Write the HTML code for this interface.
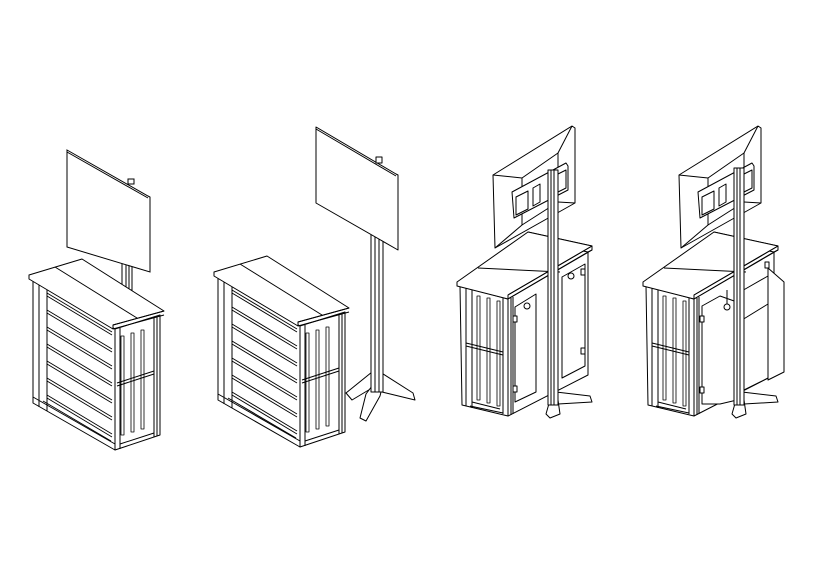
<!DOCTYPE html>
<html><head><meta charset="utf-8"><style>
html,body{margin:0;padding:0;background:#fff;width:815px;height:562px;overflow:hidden}
svg{display:block}
</style></head><body>
<svg width="815" height="562" viewBox="0 0 815 562" xmlns="http://www.w3.org/2000/svg">
<defs>
<g id="cabA" fill="#fff" stroke="#000" stroke-width="1" stroke-linejoin="round">
  <polygon points="218,276 300,326 300,447 218,400"/>
  <line x1="224" y1="280" x2="224" y2="404"/>
  <line x1="232" y1="285" x2="232" y2="408"/>
  <line x1="218" y1="394" x2="300" y2="441"/>
  <line x1="228" y1="398" x2="296" y2="438"/>
  <g stroke-width="0.9">
   <line x1="232" y1="290" x2="297" y2="329"/><line x1="232" y1="293" x2="297" y2="332"/>
   <line x1="232" y1="307" x2="297" y2="346"/><line x1="232" y1="310" x2="297" y2="349"/>
   <line x1="232" y1="324" x2="297" y2="363"/><line x1="232" y1="327" x2="297" y2="366"/>
   <line x1="232" y1="341" x2="297" y2="380"/><line x1="232" y1="344" x2="297" y2="383"/>
   <line x1="232" y1="358" x2="297" y2="397"/><line x1="232" y1="361" x2="297" y2="400"/>
   <line x1="232" y1="375" x2="297" y2="414"/><line x1="232" y1="378" x2="297" y2="417"/>
   <line x1="232" y1="392" x2="297" y2="431"/><line x1="232" y1="395" x2="297" y2="434"/>
  </g>
  <polygon points="300,326 345,312 345,432 300,447"/>
  <line x1="305" y1="325" x2="305" y2="446"/>
  <line x1="339" y1="314" x2="339" y2="434"/>
  <line x1="342" y1="313" x2="342" y2="433"/>
  <g stroke-width="0.8">
   <rect x="306" y="333" width="3" height="99"/>
   <rect x="316" y="330" width="3" height="99"/>
   <rect x="326" y="327" width="3" height="99"/>
  </g>
  <line x1="302" y1="380" x2="339" y2="368"/>
  <line x1="302" y1="383" x2="339" y2="371"/>
  <line x1="305" y1="441" x2="339" y2="430"/>
  <polygon points="214,272 267,256 349,308 298,322 298,326 214,276"/>
  <line x1="298" y1="322" x2="349" y2="308"/>
  <line x1="298" y1="326" x2="349" y2="312"/>
  <line x1="240" y1="264" x2="322" y2="315"/>
</g>
<g id="cabB" fill="#fff" stroke="#000" stroke-width="1" stroke-linejoin="round">
  <polygon points="460,286 508,299 508,416 462,405"/>
  <line x1="466" y1="287" x2="466" y2="406"/>
  <line x1="472" y1="289" x2="472" y2="408"/>
  <line x1="503" y1="297" x2="503" y2="414"/>
  <g stroke-width="0.8">
   <rect x="477" y="296" width="3" height="104"/>
   <rect x="487" y="298" width="3" height="105"/>
   <rect x="497" y="301" width="3" height="105"/>
  </g>
  <line x1="466" y1="343" x2="503" y2="352"/>
  <line x1="466" y1="346" x2="503" y2="355"/>
  <line x1="470" y1="406" x2="503" y2="413"/>
  <line x1="472" y1="402" x2="500" y2="409"/>
  <polygon points="508,299 588,252 588,375 508,416"/>
  <line x1="511" y1="298" x2="511" y2="415"/>
  <line x1="513" y1="297" x2="513" y2="414"/>
</g>
<g id="tvB" fill="#fff" stroke="#000" stroke-width="1" stroke-linejoin="round">
  <polygon points="493,175 572,126 575,128 575,203 495,248"/>
  <line x1="493" y1="175" x2="522" y2="178"/>
  <line x1="572" y1="126" x2="558" y2="153"/>
  <line x1="575" y1="203" x2="558" y2="202"/>
  <line x1="495" y1="248" x2="522" y2="225"/>
  <polygon points="522,178 558,153 558,202 522,225"/>
  <polygon points="512,192 566,163 568,166 568,190 514,218"/>
  <polygon points="516,197 528,191 528,209 516,215"/>
  <polygon points="533,188 540,184 540,202 533,206"/>
  <polygon points="558,174 566,170 566,188 558,192"/>
</g>
</defs>

<g fill="#fff" stroke="#000" stroke-width="1">
  <rect x="122" y="255" width="10" height="35"/>
  <line x1="126" y1="255" x2="126" y2="290"/><line x1="129" y1="255" x2="129" y2="290"/>
  <polygon points="67,150 148,196 150,197 150,272 67,247"/>
  <line x1="67" y1="152" x2="148" y2="198"/>
  <rect x="128" y="179" width="6" height="5"/>
</g>
<use href="#cabA" transform="translate(-185,3)"/>

<g fill="#fff" stroke="#000" stroke-width="1" stroke-linejoin="round">
  <polygon points="372,372 346,393 352,400 372,388"/>
  <polygon points="380,372 413,393 415,400 382,392"/>
  <polygon points="372,386 366,394 360,418 366,421 380,396 382,388"/>
  <rect x="371" y="232" width="12" height="160"/>
  <line x1="375" y1="232" x2="375" y2="392"/><line x1="379" y1="232" x2="379" y2="392"/>
  <polygon points="316,127 396,174 398,175 398,250 316,203"/>
  <line x1="316" y1="129" x2="396" y2="176"/>
  <rect x="376" y="157" width="6" height="6"/>
</g>
<use href="#cabA"/>

<use href="#tvB"/>
<g fill="#fff" stroke="#000" stroke-width="1" stroke-linejoin="round">
  <polygon points="528,232 592,246 592,250 588,252 528,240"/>
</g>
<use href="#cabB"/>
<g fill="#fff" stroke="#000" stroke-width="1" stroke-linejoin="round">
  <polygon points="457,282 528,232 592,246 508,295 508,299 457,286"/>
  <line x1="508" y1="295" x2="592" y2="246"/>
  <line x1="508" y1="299" x2="592" y2="250"/>
  <line x1="478" y1="268" x2="560" y2="272"/>
  <polygon points="515,307 536,294 536,392 515,402"/>
  <rect x="513" y="316" width="4" height="6"/><rect x="513" y="386" width="4" height="6"/>
  <circle cx="527" cy="306" r="3"/>
  <polygon points="562,277 585,264 585,366 562,378"/>
  <rect x="581" y="269" width="4" height="6"/><rect x="581" y="348" width="4" height="6"/>
  <circle cx="571" cy="276" r="3"/>
  <polygon points="556,392 590,396 592,402 558,404"/>
  <polygon points="550,400 546,414 550,418 560,414 558,400"/>
  <rect x="548" y="170" width="10" height="235"/>
  <line x1="551" y1="170" x2="551" y2="405"/><line x1="554" y1="170" x2="554" y2="405"/>
</g>

<use href="#tvB" transform="translate(186,0)"/>
<g fill="#fff" stroke="#000" stroke-width="1" stroke-linejoin="round">
  <polygon points="714,232 778,246 778,250 774,252 714,240"/>
</g>
<use href="#cabB" transform="translate(186,0)"/>
<g fill="#fff" stroke="#000" stroke-width="1" stroke-linejoin="round">
  <polygon points="643,282 714,232 778,246 694,295 694,299 643,286"/>
  <line x1="694" y1="295" x2="778" y2="246"/>
  <line x1="694" y1="299" x2="778" y2="250"/>
  <line x1="664" y1="268" x2="746" y2="272"/>
  <polygon points="740,292 768,276 768,378 740,392"/>
  <line x1="742" y1="320" x2="768" y2="304"/>
  <polygon points="768,268 784,282 784,372 768,380"/>
  <rect x="765" y="262" width="4" height="6"/>
  <polygon points="702,306 720,296 737,302 737,400 720,404 702,404"/>
  <rect x="700" y="316" width="4" height="6"/><rect x="700" y="387" width="4" height="6"/>
  <circle cx="727" cy="307" r="3"/>
  <line x1="727" y1="304" x2="727" y2="290"/>
  <polygon points="742,392 776,396 778,402 744,404"/>
  <polygon points="736,400 732,414 736,418 746,414 744,400"/>
  <rect x="734" y="168" width="10" height="237"/>
  <line x1="737" y1="168" x2="737" y2="405"/><line x1="740" y1="168" x2="740" y2="405"/>
</g>
</svg>
</body></html>
